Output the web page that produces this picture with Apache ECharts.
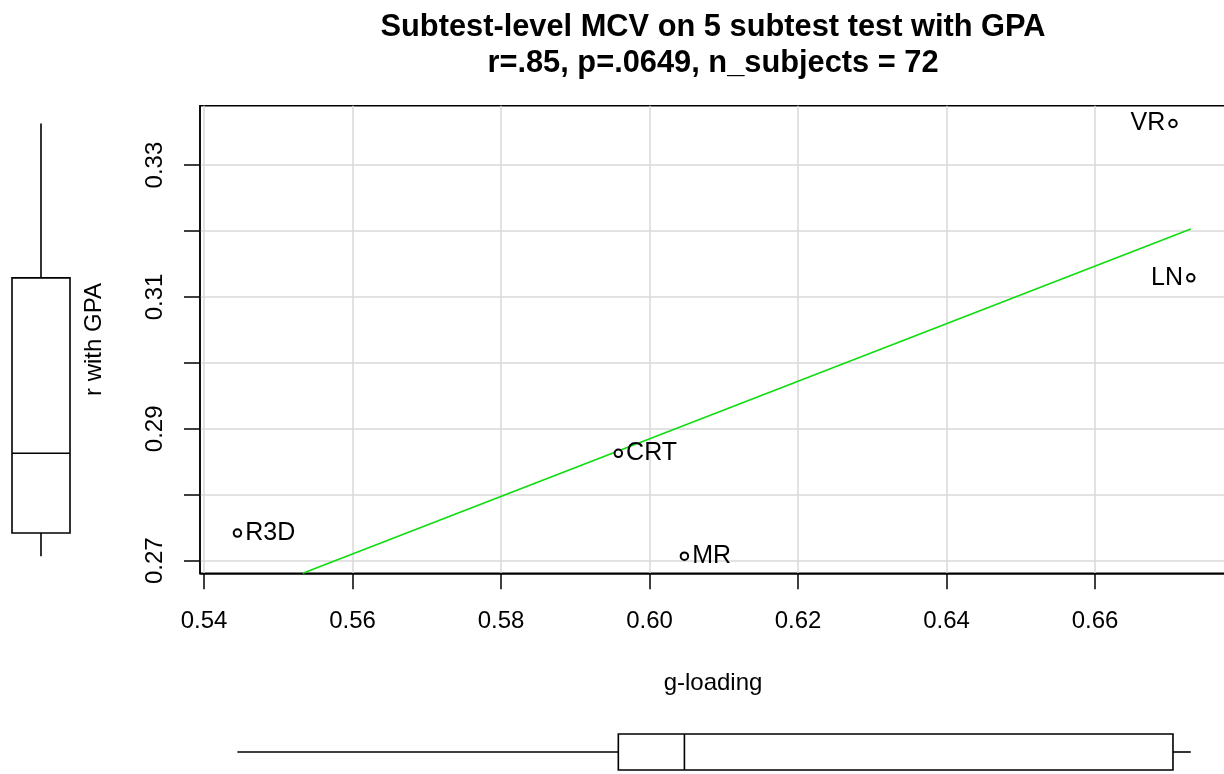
<!DOCTYPE html>
<html>
<head>
<meta charset="utf-8">
<script src="https://cdn.jsdelivr.net/npm/echarts@6/dist/echarts.min.js"></script>
<style>
html,body{margin:0;padding:0;background:#fff;}
#chart{width:1224px;height:774px;}
</style>
</head>
<body>
<div id="chart"></div>
<script>
// ---- data ----
const subtests = ['VR', 'LN', 'CRT', 'MR', 'R3D'];
const gLoading = [0.6705, 0.6729, 0.5958, 0.6047, 0.5445];
const rWithGPA = [0.3363, 0.3129, 0.2863, 0.2707, 0.2742];
// regression line endpoints (visible part)
const fitX = [0.5533, 0.6729];
const fitY = [0.2681, 0.3203];
// five-number summaries: [min, q1, median, q3, max]
const gBox = [0.5445, 0.5958, 0.6047, 0.6705, 0.6729];
const rBox = [0.2707, 0.2742, 0.2863, 0.3129, 0.3363];
// ticks
const xTicks = [0.54, 0.56, 0.58, 0.60, 0.62, 0.64, 0.66];
const yTicks = [0.27, 0.28, 0.29, 0.30, 0.31, 0.32, 0.33];
const yTickLabels = [0.27, 0.29, 0.31, 0.33];
const titleLines = ['Subtest-level MCV on 5 subtest test with GPA', 'r=.85, p=.0649, n_subjects = 72'];
const xName = 'g-loading';
const yName = 'r with GPA';

// ---- layout / style ----
const FONT = '"Liberation Sans", Arial, sans-serif';
const X_MIN = 0.53946, X_MAX = 0.67818;
const Y_MIN = 0.2681, Y_MAX = 0.3390;
const labelLeft = { VR: true, LN: true };

const chart = echarts.init(document.getElementById('chart'), null, { renderer: 'canvas' });

const scatterData = subtests.map((n, i) => ({
  name: n,
  value: [gLoading[i], rWithGPA[i]],
  label: { position: labelLeft[n] ? 'left' : 'right' }
}));

const BOX_STROKE = '#000';
const BOX_LW = 1.6;

function boxRender(horizontal) {
  return function (params, api) {
    const v = [api.value(0), api.value(1), api.value(2), api.value(3), api.value(4)];
    const style = { stroke: BOX_STROKE, lineWidth: BOX_LW, fill: null };
    const children = [];
    if (horizontal) {
      const p = v.map(x => api.coord([x, 0]));
      const top = api.coord([v[0], 1])[1];
      const bot = p[0][1];
      const mid = api.coord([v[0], 0.5])[1];
      children.push({ type: 'rect', shape: { x: p[1][0], y: top, width: p[3][0] - p[1][0], height: bot - top }, style: { stroke: BOX_STROKE, lineWidth: BOX_LW, fill: '#fff' } });
      children.push({ type: 'line', shape: { x1: p[2][0], y1: top, x2: p[2][0], y2: bot }, style });
      children.push({ type: 'line', shape: { x1: p[0][0], y1: mid, x2: p[1][0], y2: mid }, style });
      children.push({ type: 'line', shape: { x1: p[3][0], y1: mid, x2: p[4][0], y2: mid }, style });
    } else {
      const p = v.map(y => api.coord([0, y]));
      const left = p[0][0];
      const right = api.coord([1, v[0]])[0];
      const mid = api.coord([0.5, v[0]])[0];
      children.push({ type: 'rect', shape: { x: left, y: p[3][1], width: right - left, height: p[1][1] - p[3][1] }, style: { stroke: BOX_STROKE, lineWidth: BOX_LW, fill: '#fff' } });
      children.push({ type: 'line', shape: { x1: left, y1: p[2][1], x2: right, y2: p[2][1] }, style });
      children.push({ type: 'line', shape: { x1: mid, y1: p[0][1], x2: mid, y2: p[1][1] }, style });
      children.push({ type: 'line', shape: { x1: mid, y1: p[3][1], x2: mid, y2: p[4][1] }, style });
    }
    return { type: 'group', children };
  };
}

const hiddenAxis = (extra) => Object.assign({
  type: 'value', show: false, axisLine: { show: false }, axisTick: { show: false },
  axisLabel: { show: false }, splitLine: { show: false }
}, extra);

const option = {
  animation: false,
  backgroundColor: '#fff',
  textStyle: { fontFamily: FONT },
  title: {
    text: titleLines.join('\n'),
    left: 708,
    textAlign: 'center',
    top: 5,
    textStyle: { fontFamily: FONT, fontSize: 30.8, fontWeight: 'bold', color: '#000', lineHeight: 36 }
  },
  grid: [
    { left: 200, width: 1030, top: 105.7, height: 467.6, show: true, borderColor: '#000', borderWidth: 1.5, backgroundColor: 'transparent', containLabel: false, outerBoundsMode: 'none' },
    { left: 200, width: 1030, top: 734, height: 36, containLabel: false, outerBoundsMode: 'none' },
    { left: 12, width: 58, top: 105.7, height: 467.6, containLabel: false, outerBoundsMode: 'none' }
  ],
  xAxis: [
    {
      gridIndex: 0, type: 'value', min: X_MIN, max: X_MAX,
      name: xName, nameLocation: 'middle', nameGap: 98,
      nameTextStyle: { fontFamily: FONT, fontSize: 24, color: '#000', verticalAlign: 'top', padding: [0, 4, 0, 0] },
      axisLine: { show: true, onZero: false, lineStyle: { color: '#000', width: 1.5 } },
      axisTick: { show: true, customValues: xTicks, length: 16, inside: false, lineStyle: { color: '#000', width: 1.5 } },
      axisLabel: { show: true, customValues: xTicks, margin: 36, fontSize: 24, color: '#000', fontFamily: FONT, formatter: v => v.toFixed(2) },
      splitLine: { show: true, lineStyle: { color: '#d9d9d9', width: 1.5 } }
    },
    hiddenAxis({ gridIndex: 1, min: X_MIN, max: X_MAX }),
    hiddenAxis({ gridIndex: 2, min: 0, max: 1 })
  ],
  yAxis: [
    {
      gridIndex: 0, type: 'value', min: Y_MIN, max: Y_MAX,
      name: yName, nameLocation: 'middle', nameGap: 94, nameRotate: 90,
      nameTextStyle: { fontFamily: FONT, fontSize: 24, color: '#000' },
      axisLine: { show: true, onZero: false, lineStyle: { color: '#000', width: 1.5 } },
      axisTick: { show: true, customValues: yTicks, length: 16, inside: false, lineStyle: { color: '#000', width: 1.5 } },
      axisLabel: { show: true, customValues: yTickLabels, rotate: 90, margin: 33, fontSize: 24, color: '#000', fontFamily: FONT, formatter: v => v.toFixed(2) },
      splitLine: { show: true, lineStyle: { color: '#d9d9d9', width: 1.5 } }
    },
    hiddenAxis({ gridIndex: 1, min: 0, max: 1 }),
    hiddenAxis({ gridIndex: 2, min: Y_MIN, max: Y_MAX })
  ],
  series: [
    {
      type: 'line', xAxisIndex: 0, yAxisIndex: 0,
      data: fitX.map((x, i) => [x, fitY[i]]),
      showSymbol: false, symbol: 'none',
      lineStyle: { color: '#10dd10', width: 1.7 },
      z: 3, silent: true
    },
    {
      type: 'scatter', xAxisIndex: 0, yAxisIndex: 0,
      data: scatterData,
      symbol: 'emptyCircle', symbolSize: 7.5,
      itemStyle: { color: '#000', borderColor: '#000', borderWidth: 1.5, opacity: 1 },
      label: { show: true, formatter: p => p.name, fontSize: 25, color: '#000', fontFamily: FONT, distance: 3 },
      z: 4
    },
    {
      type: 'custom', xAxisIndex: 1, yAxisIndex: 1, coordinateSystem: 'cartesian2d',
      renderItem: boxRender(true), data: [gBox], clip: false, silent: true
    },
    {
      type: 'custom', xAxisIndex: 2, yAxisIndex: 2, coordinateSystem: 'cartesian2d',
      renderItem: boxRender(false), data: [rBox], clip: false, silent: true,
      encode: { x: -1, y: [0, 1, 2, 3, 4] }
    }
  ]
};
chart.setOption(option);
</script>
</body>
</html>
